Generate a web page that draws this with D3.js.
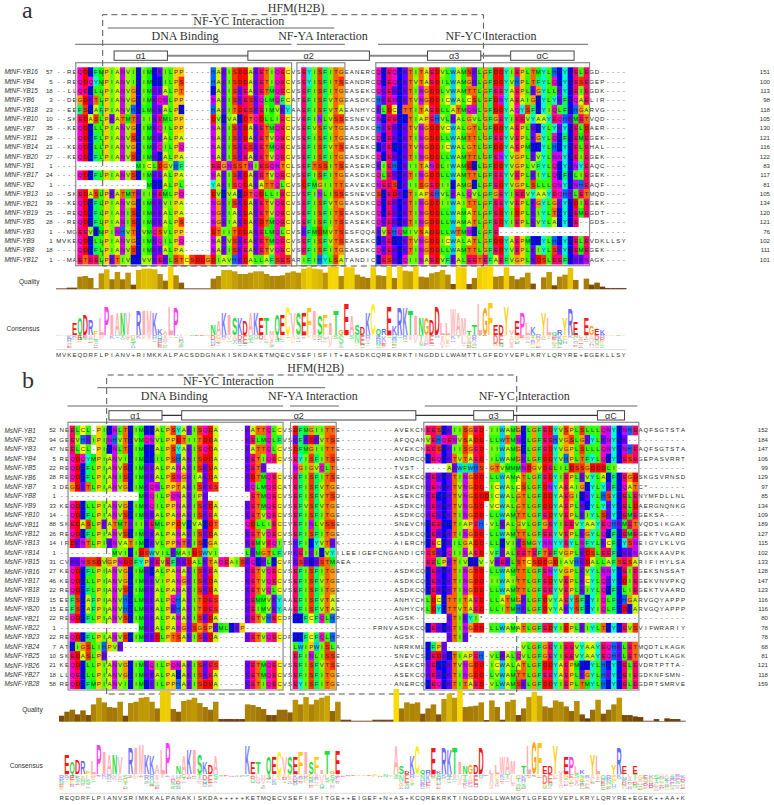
<!DOCTYPE html>
<html>
<head>
<meta charset="utf-8">
<script src="https://cdn.jsdelivr.net/npm/d3@7"></script>
<style>
  html, body { margin: 0; padding: 0; background: #fff; }
  text { font-family: "Liberation Sans", Arial, sans-serif; }
  .serif { font-family: "Liberation Serif", "Times New Roman", serif; fill: #333; }
</style>
</head>
<body>
<div id="chart"></div>
<script>
// panel a, Medicago MtNF-YB
const namesA = ["MtNF-YB16","MtNF-YB4","MtNF-YB15","MtNF-YB6","MtNF-YB18","MtNF-YB10","MtNF-YB7","MtNF-YB11","MtNF-YB14","MtNF-YB20","MtNF-YB1","MtNF-YB17","MtNF-YB2","MtNF-YB13","MtNF-YB21","MtNF-YB19","MtNF-YB5","MtNF-YB3","MtNF-YB9","MtNF-YB8","MtNF-YB12"]
const startA = [57,5,18,3,23,10,35,28,21,27,1,24,1,10,39,25,28,1,1,18,1]
const endA = [151,100,113,98,118,105,130,121,116,122,83,117,81,105,134,120,121,76,102,111,101]
const seqA = [
  "--REQDRFMPIANVIRIMRKILPP-----HAKISDDAKETIQECVSEYISFITGEANERCQR"+"EQRKTITAEDVLWAMSKLGFDDYIEPLTMYLHRYRELEGD-----",
  "--REQDQYMPIANVIRIMRRILPS-----HAKISDDAKETIQECVSEYISFITSEANDRCQR"+"EQRKTVTAEDILWAMGKLGFDDYVHPLTFYLQRYRESEGEP----",
  "--LLQERLLPIANVGRIMKKALPT-----RAKISKEAKETMQECVSEFISFITGEASEKCQK"+"EKRKTINGDDLVWAMTTLGFEEYAEPLKGYLLKYREIEGDK----",
  "--DEGDKTLPIANVGRIMKQNLPP-----NAKISKESKQLMQFCATEFISFVTGEASDKCHK"+"ENRKTVNGDDICWALCSLGFDNYAEAIGRYLYKFRQAELIR----",
  "--EEFSRAFPIANVHRLMKKALPR-----HAKITDESKEIMVKYAAEFISFVTAEANHYCKL"+"DCRTTITAEDLLATMQNLGFDDYAQYSFRYIQLFRHGARVG----",
  "--SKEDASLPKATMTKIIKEMLPP-----DVRVARDTQDLLIECCVEFINLVSSESNEVCNR"+"EERRTIAPEHVLKALGVLGFGEYIEEVYAAYEQHKMETVQD----",
  "--KEQDRLLPIANVGRIMKQILPP-----NAKISKDAKETMQECVSEFVSFVTGEASDKCHK"+"EKRKTVNGDDVCWALGTLGFDDYAEPLKRYLYKYRELDAER----",
  "----QDRFLPIANVSRIMKKALPA-----NAKISKDAKETVQECVSEFISFITGEASDKCQR"+"EKRKTINGDDLLWAMTTLGFEEYVEPLKGYLQRFREMEGEK----",
  "--KEQDRLLPIANVGRIMKQILPQ-----NAKISKESKETMQECVSEFISFVTSEASEKCRK"+"ERRKTVNGDDICWALGTLGFDDYAEPMRRYLHRYRELEHAL----",
  "--KEQDRFLPIANVSRIMKRALPA-----NAKISKEAKETVQECVSEFISFITGEASDKCQR"+"EKRKTINGDDLLWAMTTLGFENYVGPLKVYLNNYREIEGEK----",
  "---------------MICLDGVHF-----EEGNSSTNIESQNTCLSEFTSSITSEASERCKI"+"EHRKIITANDLIWAMDRLGFDDYVGPLVFYLQRYRNYEAQC----",
  "----QDRFLPIANVSRIMKKALPA-----NAKISKDAKETVQECVSEFISFITGEASDKCQL"+"EKRKTINGDDLLWAMTTLGFEEYVEPLKIYLQRFRLIEGEK----",
  "-----------------MRRALPL-----YAKISQDAKATTQLCVSDFMGIITTEAVEKCNE"+"ESRKIISGEDIIRAMGRLGFEDYVGPLSLLLQNYRNHEAQF----",
  "--SKEDASLPKATMTKIIKEMLPQ-----DVRVARDTQDLLIECCVEFINLISSESNEVCSR"+"EDKRTIAPEHVLKALQVLGFGEYIEEVYAAYEQHKLETMQD----",
  "--KEQDRFLPIANVGRIMKKVIPA-----NGKISKDAKETVQECVSEFISFVTGEASDKCQR"+"EKRKTINGDDIIWAITTLGFEEYVEPLKGYLGKYRDIEGEK----",
  "--REQDRFLPIANISRIMKKALPA-----NGKIAKDAKETVQECVSEFISFITSEASDKCQR"+"EKRKTINGDDLLWAMATLGFEDYIDPLKIYLTRYREMEGDT----",
  "--REQDRFLPIANISRIMKKALPS-----NGKIAKDAKDTMQECVSEFISFITSEASEKCQK"+"EKRKTINGDDLLWAMATLGFEDYIEPLKVYLARYRE--GDS----",
  "--MGEEVRMPINHVTRVMQSVLPP-----DTIITDDAKELMQLCVSKFMDMVTSESFQQAKV"+"EHQMIVSADDLLWTMNRLGFE------------------------",
  "MVKEQDRLLPIANVGRIMKQILPQ-----NAKVSKEAKETMQECVSEFISFVTSEASEKCRK"+"ERRKTVNGDDICWALATLGFDDYAEPMRRYLHRYRELEVDKLLSY",
  "----QDRFLPIANVSRIMKKALPA-----NAKISKEAKETVQECVSEFISFITGEASDKCQK"+"EKRKTINGDDLLWAMTTLGFEDYVEPLKIYLSKYREMEGEK----",
  "--MAETEELPKTIVRRVVKEKLSTCSDDGDIAVHKDALLAFSESARIFIHYLSATANDICRE"+"SKRQIINAEDVFKALEETEFAEFVGPLKDSLEEFRKKNAGK----"
]
const consensusA = "MVKEQDRFLPIANV+RIMKKALPACSDDGNAKISKDAKETMQECVSEFISFIT+EASDKCQREKRKTINGDDLLWAMTTLGFEDYVEPLKRYLQRYRE+EGEKLLSY"
const qualityA = [3,3,5,5,38,40,34,3,48,60,30,52,30,50,14,58,62,62,60,46,26,68,42,20,3,3,3,3,3,32,40,58,58,54,46,46,50,54,54,46,40,40,42,50,54,50,62,66,62,60,50,68,68,40,66,66,44,38,34,66,42,40,68,34,68,56,54,68,38,36,48,52,58,44,16,68,66,16,34,66,68,70,38,40,66,40,30,36,50,17,0,36,52,12,38,44,64,28,0,32,14,20,8,4,4,4,4]
const logoTopA = "   EQDRFLPIANV RIMKKALP      NAKISKDAKETMQECVSEFISFITGEASDKCQREKRKTINGDDLLWAMTTLGFEDYVEPLK YLQRYRE EGEK    "
const logoSizeA = [0,0,0,11,16,20,15,4,17,28,21,21,21,21,0,24,24,24,21,6,4,28,27,0,0,0,0,0,0,10,14,21,21,16,16,14,21,21,16,16,4,21,20,28,21,21,21,27,24,19,20,11,24,5,30,19,10,7,21,30,6,6,28,9,27,27,24,19,16,16,15,28,12,11,26,22,16,4,10,31,27,32,10,10,28,5,14,21,12,7,0,22,17,3,5,16,26,13,0,17,9,6,5,0,0,0,0]
const helixA = [["α1",10.9,20.9],["α2",36,58.8],["α3",69.7,79.7],["αC",85.3,97.2]]
const regionsA = [
  ["NF-YC Interaction",9.7,52.2,0,34.3],
  ["DNA Binding",3.6,44.2,1,24.2],
  ["NF-YA Interaction",45.2,54.2,1,50.1],
  ["NF-YC Interaction",60.4,99.8,1,81.6]
]

// panel b, alfalfa MsNF-YB
const namesB = d3.range(1,29).map(i => "MsNF-YB"+i)
const startB = [52,94,47,5,22,28,3,1,33,14,88,26,14,1,31,27,46,22,15,15,22,1,22,7,10,21,18,58]
const endB = [152,184,147,106,99,129,97,85,134,109,189,127,115,102,133,128,147,123,116,116,80,78,78,68,81,121,118,159]
const seqB = [
  "NEELCL-PIRNLTRIMRRALPSYAKISQDA-----KATTQLCVSDFMGIITTE----------AVEKCN"+"EESRKIISGED-IIWAMGRLGFEDYVSPLSLLLQNYRNHEAQFSGTSTA",
  "GEEVHKIPINHVTRVMQNVLPPDTIITDDA-----KELMQLFVSKFKDKVTSE----------AFQQAN"+"VEHQENVSADD-LLWTMNRLGFEEHVGSLGKYLKNYRK",
  "NEELCL-PIRNLTRIMRRALPSYAKISQDA-----KATTQLCVSDFMGIITTE----------AVEKCN"+"EESRKIISGED-IIWAMGRLGFEDYVGPLSLLLQNYRNHEAQFSGTSTA",
  "REQDQYMPIANVIRIMRRILPSHAKISDDA-----KETIQECVSEYISFITSE----------ANDRCQ"+"REQRKTVTAED-ILWAMGKLGFDDYVHPLTFYLQRYRESEGEPASVRRT",
  "REQDRFLPIANVSRIMKKALPANAKISKDA-----KETK-----NGIGVQLTL----------TVST--"+"----AKWFWHS-GTVMMMNDGVDELILDSSGDDDLI",
  "REQDRFLPIANISRIMKKALPSNGKIAKDA-----KDTMQECVSEFISFITSE----------ASEKCQ"+"KEKRKTINGDD-LLWAMATLGFEDYIEPLKVYLARFREGDSKGSVRNSD",
  "DEGDKTLPIANVGRIMKQNLPPTAKISKES-----KQLMQECATEFISFVTGE----------ASDKCH"+"KENRKTVNGDD-ICWALCSLGFDNYAEAIGRYLYKFRQATC*-------",
  "---------------MKQILPQNAKIPK--------ETMQECVSEFISFVTSD----------ASEKCR"+"KERRKTVNGDDDICWALGTLGFDDYAEGIRKYLHSYRELENYMFDLLNL",
  "KEQDRLLPIANVGRIMKQILPPNAKISKDA-----KETMQECVSEFVSFVTGE----------ASDKCH"+"KEKRKTVNGDD-VCWALGTLGFDDYAEPLKRYLYKYRELDAERGNQNKG",
  "--QDRFLPIANVSRIMKKALPANAKISKEA-----KETVQECVSEFISFITGE----------ASDKCQ"+"KEKRKTINGDD-LLWAMTTLGFEDYVEPLKIYLSKYREMEGEKSA----",
  "SKEDASLPKATMTKIIKEMLPPDVRVARDT-----QDLLIECCVEFINLVSSE----------SNEVCN"+"REERRTIAPEH-VLKALGVLGFGEYIEEVYAAYEQHKMETVQDSIKGAK",
  "REQDRFLPIANVSRIMKKALPANAKISKDA-----KETVQECVSEFISFITGE----------ASDKCQ"+"REKRKTINGDD-LLWAMTTLGFEEYVEPLKGYLQRFREMEGEKTVGARD",
  "IRDKNTLPIKNVATIMRKVLPPNTKISRGA-----KEMVEQITSKFIRYVTKK----------AIERCH"+"RECRKILGADD-LLRVIKSMGYNNYYEYLNFYLKCFRYSNEIGYLKLVG",
  "----------MVIRIDSWVILKMAIDSWVI-----LKMGTLFVRKEIKIRVYILEEIGEFCNGANDICR"+"ESKRQIINAED-VFKALEETEFTEFVGPLKDSLEEFRKKNAGKKAAVPK",
  "CVKKNSSDVGPNDDFYPKEVEFKKDALKTAQEAISKQRKLRCVFKSKRKSTMAEA--------------"+"EELPKTIVRRV-VKEKLSTCSDDGDIAVHKDALLAFSESARIFIHYLSA",
  "KEQDRFLPIANVGRIMKRALPANAKISKEA-----KETVQECVSEFISFITGE----------ASDKCQ"+"REKRKTINGDD-LLWAMTTLGFENYVGPLKVYLNNYREIEGEKSNSSAT",
  "KEQDRLLPIANVGRIMKKVIPANGKISKDA-----KETVQECVSEFISFVTGE----------ASDKCQ"+"REKRKTINGDD-IIWAITTLGFEDYVEPLKCYLQKYRDIEGEKVNVPKQ",
  "REQDRFLPIANVSRIMKKALPANAKISKDA-----KETVQLCVSEFISFITGE----------ASDKCQ"+"REKRKTINGDD-LLWAMTTLGFEEYVEPLKIYLQRFRLIEGEKTVAARD",
  "EEFSRAFPIANVHRLMKKALPQHAKITDES-----KEMMVKYAAEFISFVTAE----------ANHYCK"+"LDCRTTITAED-LLATMGKLGFDVYAEYSFRYIQLFRHGARVGQYAPPP",
  "EEFSRAFPIANVHRLMKKALPKHAKITDES-----KEIMVKYAAEFISFVTAE----------ANHYCK"+"LDYRTTVTAED-LLITMHKLGFDVYAKYSFRYIQLFRDRARVGQYAPPP",
  "REQDRFLPIANVSRIMKKALPANAKISKDA-----KETVHECDFRRFCFQLHP----------AGSK--"+"----KTIKYI*",
  "---------------MKKALPANGKSGSPKMLRKP------------------------FRNVASDKCQ"+"REKRKTINGDD-LLWAMATLGFEDYIDPLKIYLTRYREVSVIFWRARIY",
  "REQDRFLPIANVSRIMKKDLPTSAKISKDA-----KETVQECDFRRFCFQLHP----------AGSK--"+"----KTIK*",
  "ATRIGSLIHPVK--------------------------------LWIPWISLA----------NRRKML"+"RFPK--------------VLGFGEYIEEVYAAYEQHKLETMQDTLKAGK",
  "SKEDASLPK-----------------------------------EFINLISSE----------SNEVCS"+"REDKRTIAPEH-VLKALQVLGFGEYIEEVYAAYEQHKLETMQDTLKAGK",
  "KEQDRLLPIANVGRIMKQILPQNAKISKES-----KETMQECVSEFISFVTSE----------ASEKCR"+"KERRKTVNGDD-ICWALATLGFDDYAEPMRRYLHRYRELEVDRTPTTA-",
  "LLQERLLPIANVGRIMKKALPARAKISKEA-----KETMQECVSEFISFITGE----------ASEKCQ"+"KEKRKTINGDD-LVWAMTTLGFEEYAEPLKGYLHKYREIEGDKNFSMN-",
  "REQDRFMPIANVIRIMRKILPPHAKISDDA-----KETIQECVSEYISFITGE----------ANERCQ"+"REQRKTITAED-VLWAMSKLGFDDYIEPLTMYLHRYRELEGDRTSMRVE"
]
const consensusB = "REQDRFLPIANVSRIMKKALPANAKISKDA+++++KETMQECVSEFISFITGE++EIGEF+N+AS+KCQREKRKTINGDDDLLWAMGTLGFEDYVEPLKRYLQRYRE+EGEK++AA+K"
const qualityB = [18,30,36,22,34,20,52,72,58,44,42,60,18,56,60,72,74,60,40,92,92,38,30,62,66,72,56,44,36,60,8,8,8,8,8,52,50,44,38,20,20,36,36,28,66,52,74,52,66,72,78,32,60,6,6,3,3,3,3,6,6,6,6,98,40,58,54,58,24,40,52,22,68,84,72,96,44,46,48,58,5,64,44,6,60,66,20,40,74,90,78,46,42,64,60,46,32,62,22,10,36,66,24,36,52,72,20,20,16,14,3,3,8,2,10,8,8,3]
const logoTopB = " EQDRFLPIANV RIMKKALP NAKISKDA     KET QECVSEFISFITGE          ASDKCQREKRKTINGDD LLWAM TLGFEDYVEPLK YL  YRE E         "
const logoSizeB = [0,19,11,14,13,3,13,29,21,19,19,16,0,25,25,29,19,18,9,24,31,0,8,18,24,24,19,11,9,18,0,0,0,0,0,28,11,11,0,16,16,21,16,16,16,21,21,11,16,4,23,3,23,0,0,0,0,0,0,0,0,0,0,28,8,3,18,28,4,4,25,3,25,24,25,11,8,9,9,25,0,4,9,16,16,13,0,8,28,32,30,7,7,28,3,16,16,8,4,0,19,18,0,0,9,25,8,0,8,0,0,0,0,0,0,0,0,0]
const helixB = [["α1",9.4,19.4],["α2",23.1,67.2],["α3",78.1,85.6],["αC",101.4,106.5]]
const regionsB = [
  ["NF-YC Interaction",7.2,50.1,0,31.9],
  ["DNA Binding",1.6,42.2,1,21.7],
  ["NF-YA Interaction",43.5,52.7,1,47.8],
  ["NF-YC Interaction",68.9,108.9,1,87.6]
]

// Taylor residue colours, same as the alignment viewer
const taylor = {A:"#ccff00",R:"#0000ff",N:"#cc00ff",D:"#ff0000",C:"#ffff00",Q:"#ff00cc",E:"#ff0066",G:"#ff9900",H:"#0066ff",I:"#66ff00",L:"#33ff00",K:"#6600ff",M:"#00ff00",F:"#00ff66",P:"#ffcc00",S:"#ff3300",T:"#ff6600",W:"#00ccff",Y:"#00ffcc",V:"#99ff00"}
const logoColour = {A:"#ffb0b4",I:"#ffb0b4",L:"#ffa8b0",V:"#ffb0b4",M:"#ffb0b4",W:"#ffb0b4",R:"#6a6cff",K:"#7a7cff",H:"#60a0ff",D:"#f01818",E:"#f81818",N:"#20e040",Q:"#20d850",S:"#20e040",T:"#20e040",G:"#ffa020",P:"#ff40f0",F:"#ffc810",Y:"#f8d010",C:"#ffee10"}

const svg = d3.select("#chart").append("svg").attr("width", 774).attr("height", 805).style("display", "block")

const qualityColour = d3.scaleLinear()
  .domain([0, .1, .4, .75, .92, 1])
  .range(["#8a5a48", "#6b3a08", "#a07408", "#c09a05", "#e8c800", "#ffdc00"])
const qualityHeight = d3.scaleLinear().domain([0, 100]).range([0, 33.3])

// measure letters once so the logo can squeeze them into a column
const letterWidth = {}
const probe = svg.append("text").attr("font-size", 10).attr("font-weight", "bold")
Object.keys(taylor).forEach(l => {
  probe.text(l)
  letterWidth[l] = probe.node().getComputedTextLength()
})
probe.remove()

function drawPanel(p) {
  const n = p.consensus.length
  const x = d3.scaleLinear().domain([0, n]).range([p.x0, p.x0 + n * p.w])
  const y = d3.scaleBand().domain(p.names).range(p.rowRange)
  const g = svg.append("g")
  const seqs = p.seqs.map(s => s.padEnd(n, "-"))
  const cells = []
  seqs.forEach((s, r) => {
    for (let c = 0; c < n; c++) cells.push({r: r, c: c, aa: s[c]})
  })
  const coloured = c => p.blocks.some(b => c >= b[0] && c <= b[1])

  g.selectAll(".cell")
    .data(cells.filter(d => taylor[d.aa] && coloured(d.c)))
    .enter()
    .append("rect")
      .attr("class", "cell")
      .attr("x", d => x(d.c))
      .attr("y", d => y(p.names[d.r]))
      .attr("width", p.w + .3)
      .attr("height", y.bandwidth() + .3)
      .attr("fill", d => taylor[d.aa])

  g.selectAll(".residue")
    .data(cells)
    .enter()
    .append("text")
      .attr("class", "residue")
      .attr("x", d => x(d.c + .5))
      .attr("y", d => y(p.names[d.r]) + y.bandwidth() / 2)
      .attr("dy", ".36em")
      .attr("text-anchor", "middle")
      .attr("font-size", 6.1)
      .attr("fill", "#2b2b2b")
      .text(d => d.aa)

  g.selectAll(".name")
    .data(p.names)
    .enter()
    .append("text")
      .attr("class", "name")
      .attr("x", 4.5)
      .attr("y", d => y(d) + y.bandwidth() / 2)
      .attr("dy", ".36em")
      .attr("font-size", 6.4)
      .attr("font-style", "italic")
      .attr("fill", "#333")
      .text(d => d)

  g.selectAll(".start")
    .data(p.starts)
    .enter()
    .append("text")
      .attr("x", p.startX)
      .attr("y", (d, i) => y(p.names[i]) + y.bandwidth() / 2)
      .attr("dy", ".36em")
      .attr("text-anchor", "end")
      .attr("font-size", 6.1)
      .attr("fill", "#333")
      .text(d => d)

  g.selectAll(".end")
    .data(p.ends)
    .enter()
    .append("text")
      .attr("x", p.endX)
      .attr("y", (d, i) => y(p.names[i]) + y.bandwidth() / 2)
      .attr("dy", ".36em")
      .attr("text-anchor", "end")
      .attr("font-size", 6.1)
      .attr("fill", "#333")
      .text(d => d)

  // grey frames round the three blocks
  g.selectAll(".frame")
    .data(p.frames)
    .enter()
    .append("rect")
      .attr("x", d => x(d[0]))
      .attr("y", p.frameY[0])
      .attr("width", d => x(d[1]) - x(d[0]))
      .attr("height", p.frameY[1] - p.frameY[0])
      .attr("fill", "none")
      .attr("stroke", "#8a8a8a")
      .attr("stroke-width", 1.2)

  // HFM dashed box
  g.append("path")
    .attr("d", d3.line()([[x(p.hfm[0]), p.hfmY[1]], [x(p.hfm[0]), p.hfmY[0]], [x(p.hfm[1]), p.hfmY[0]], [x(p.hfm[1]), p.hfmY[1]], [x(p.hfm[0]), p.hfmY[1]]]))
    .attr("fill", "none")
    .attr("stroke", "#555")
    .attr("stroke-width", 1)
    .attr("stroke-dasharray", "6 4")
  g.append("text")
    .attr("class", "serif")
    .attr("x", x((p.hfm[0] + p.hfm[1]) / 2) + p.hfmShift)
    .attr("y", p.hfmY[0] - 3)
    .attr("text-anchor", "middle")
    .attr("font-size", 12)
    .text("HFM(H2B)")

  g.append("text")
    .attr("class", "serif")
    .attr("x", 22)
    .attr("y", p.letterY)
    .attr("font-size", 24)
    .text(p.letter)

  // interaction regions, text over a rule
  g.selectAll(".regionLine")
    .data(p.regions)
    .enter()
    .append("line")
      .attr("x1", d => x(d[1]))
      .attr("x2", d => x(d[2]))
      .attr("y1", d => p.regionY[d[3]])
      .attr("y2", d => p.regionY[d[3]])
      .attr("stroke", "#666")
      .attr("stroke-width", 1)
  g.selectAll(".regionText")
    .data(p.regions)
    .enter()
    .append("text")
      .attr("class", "serif")
      .attr("x", d => x(d[4]))
      .attr("y", d => p.regionY[d[3]] - p.regionGap[d[3]])
      .attr("text-anchor", "middle")
      .attr("font-size", 12)
      .text(d => d[0])

  // helices
  g.append("line")
    .attr("x1", x(p.helix[0][2]))
    .attr("x2", x(p.helix[p.helix.length - 1][1]))
    .attr("y1", p.helixY + p.helixH / 2)
    .attr("y2", p.helixY + p.helixH / 2)
    .attr("stroke", p.helixLine)
    .attr("stroke-width", p.helixLineW)
  g.selectAll(".helix")
    .data(p.helix)
    .enter()
    .append("rect")
      .attr("x", d => x(d[1]))
      .attr("y", p.helixY)
      .attr("width", d => x(d[2]) - x(d[1]))
      .attr("height", p.helixH)
      .attr("fill", "#fff")
      .attr("stroke", "#444")
  g.selectAll(".helixText")
    .data(p.helix)
    .enter()
    .append("text")
      .attr("x", d => x((d[1] + d[2]) / 2))
      .attr("y", p.helixY + p.helixH / 2)
      .attr("dy", ".35em")
      .attr("text-anchor", "middle")
      .attr("font-size", 9)
      .attr("fill", "#333")
      .text(d => d[0])

  // quality bars
  const qMax = d3.max(p.quality)
  g.selectAll(".quality")
    .data(p.quality)
    .enter()
    .append("rect")
      .attr("class", "quality")
      .attr("x", (d, i) => x(i))
      .attr("y", d => p.qualityBase - qualityHeight(d))
      .attr("width", p.w + .2)
      .attr("height", d => qualityHeight(d))
      .attr("fill", d => qualityColour(d / qMax))

  g.append("text")
    .attr("x", p.labelX)
    .attr("y", p.qualityLabelY)
    .attr("dy", ".35em")
    .attr("text-anchor", "end")
    .attr("font-size", 6.6)
    .attr("fill", "#333")
    .text("Quality")
  g.append("text")
    .attr("x", p.labelX)
    .attr("y", p.consensusLabelY)
    .attr("dy", ".35em")
    .attr("text-anchor", "end")
    .attr("font-size", 6.6)
    .attr("fill", "#333")
    .text("Consensus")

  // logo, big letter on top then the remaining residues of the column
  const logo = []
  for (let c = 0; c < n; c++) {
    const top = p.logoTop[c]
    if (top && top !== " ") logo.push({c: c, aa: top, y1: p.logoBase, h: p.logoSize[c], op: 1})
    const counts = d3.rollups(seqs.map(s => s[c]).filter(a => taylor[a] && a !== top), v => v.length, a => a)
      .sort((a, b) => b[1] - a[1])
    const unit = Math.min(p.lowH / Math.max(1, d3.sum(counts, d => d[1])), 2.2 * p.lowH / seqs.length)
    let yy = p.logoBase + .6
    counts.forEach(d => {
      const h = Math.max(d[1] * unit, .8)
      logo.push({c: c, aa: d[0], y1: yy + h, h: h, op: .6})
      yy += h
    })
  }
  g.selectAll(".logo")
    .data(logo)
    .enter()
    .append("text")
      .attr("class", "logo")
      .attr("font-size", 10)
      .attr("font-weight", "bold")
      .attr("fill", d => logoColour[d.aa])
      .attr("opacity", d => d.op)
      .attr("transform", d => `translate(${x(d.c)},${d.y1}) scale(${p.w * .98 / letterWidth[d.aa]},${d.h / 6.9})`)
      .text(d => d.aa)

  g.append("line")
    .attr("x1", x(0))
    .attr("x2", x(n))
    .attr("y1", p.ruleY)
    .attr("y2", p.ruleY)
    .attr("stroke", "#ddd")

  g.selectAll(".cons")
    .data(p.consensus.split(""))
    .enter()
    .append("text")
      .attr("x", (d, i) => x(i + .5))
      .attr("y", p.ruleY + 4.8)
      .attr("dy", ".36em")
      .attr("text-anchor", "middle")
      .attr("font-size", 6.2)
      .attr("fill", "#333")
      .text(d => d)
}

drawPanel({
  letter: "a", letterY: 18,
  names: namesA, starts: startA, ends: endA, seqs: seqA,
  consensus: consensusA, quality: qualityA, logoTop: logoTopA, logoSize: logoSizeA,
  helix: helixA, regions: regionsA,
  x0: 56, w: 5.33, rowRange: [67.3, 264.2], startX: 52.7, endX: 770,
  blocks: [[4, 43], [46, 53], [60, 99]],
  frames: [[3.7, 44.2], [45.2, 54.2], [60, 100.1]], frameY: [62.7, 265.7],
  hfm: [8.76, 80.2], hfmY: [14.7, 266], hfmShift: 3,
  regionY: [28, 44.3], regionGap: [3, 4.3],
  helixY: 51, helixH: 9.3, helixLine: "#888", helixLineW: 2,
  qualityBase: 289.3, labelX: 39.5, qualityLabelY: 281.7, consensusLabelY: 328.3,
  logoBase: 334.5, lowH: 12.5, ruleY: 349.6
})

drawPanel({
  letter: "b", letterY: 388,
  names: namesB, starts: startB, ends: endB, seqs: seqB,
  consensus: consensusB, quality: qualityB, logoTop: logoTopB, logoSize: logoSizeB,
  helix: helixB, regions: regionsB,
  x0: 59, w: 5.31, rowRange: [425.6, 688.7], startX: 56, endX: 768,
  blocks: [[2, 41], [44, 51], [69, 108]],
  frames: [[1.7, 42.2], [43.6, 52.2], [68.7, 109.2]], frameY: [422.3, 690],
  hfm: [8.98, 86.2], hfmY: [375, 694], hfmShift: 4,
  regionY: [387.7, 406], regionGap: [2.7, 6],
  helixY: 410.7, helixH: 9.3, helixLine: "#333", helixLineW: 1.2,
  qualityBase: 721.7, labelX: 42.7, qualityLabelY: 709.3, consensusLabelY: 766,
  logoBase: 774.3, lowH: 14, ruleY: 793.3
})
</script>
</body>
</html>
